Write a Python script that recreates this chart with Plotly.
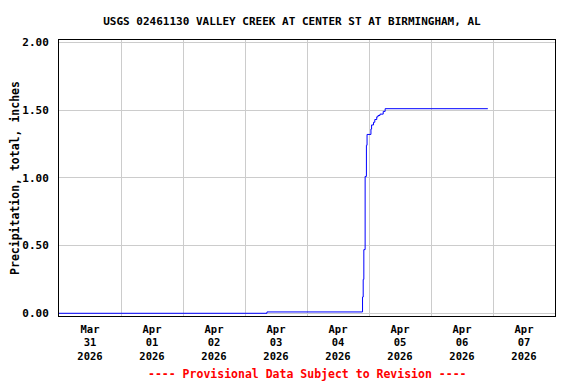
import plotly.graph_objects as go

# Cumulative precipitation readings (time, inches)
times = [
    "2026-03-31 00:00", "2026-04-03 08:30", "2026-04-04 21:30", "2026-04-04 21:45",
    "2026-04-04 22:00", "2026-04-04 22:30", "2026-04-04 23:00", "2026-04-04 23:15",
    "2026-04-05 00:45", "2026-04-05 01:00", "2026-04-05 01:45", "2026-04-05 02:15",
    "2026-04-05 03:00", "2026-04-05 03:30", "2026-04-05 04:15", "2026-04-05 05:30",
    "2026-04-05 06:15", "2026-04-06 22:00",
]
precip = [
    0.00, 0.01, 0.12, 0.25,
    0.47, 1.01, 1.24, 1.32,
    1.36, 1.39, 1.41, 1.43,
    1.45, 1.46, 1.47, 1.49,
    1.51, 1.51,
]

tick_vals = ["2026-03-31 12:00", "2026-04-01 12:00", "2026-04-02 12:00", "2026-04-03 12:00",
             "2026-04-04 12:00", "2026-04-05 12:00", "2026-04-06 12:00", "2026-04-07 12:00"]
tick_text = ["Mar<br>31<br>2026", "Apr<br>01<br>2026", "Apr<br>02<br>2026", "Apr<br>03<br>2026",
             "Apr<br>04<br>2026", "Apr<br>05<br>2026", "Apr<br>06<br>2026", "Apr<br>07<br>2026"]
y_ticks = [0.0, 0.5, 1.0, 1.5, 2.0]

title = "USGS 02461130 VALLEY CREEK AT CENTER ST AT BIRMINGHAM, AL"
y_title = "Precipitation, total, inches"
note = "---- Provisional Data Subject to Revision ----"

FONT = "DejaVu Sans Mono"

fig = go.Figure()
fig.add_trace(go.Scatter(
    x=times, y=precip, mode="lines", line=dict(color="#0000ff", width=1, shape="hv"),
    showlegend=False, hoverinfo="x+y",
))

# The page body has an 8px default margin, so the figure is laid out 8px up/left.
fig.update_layout(
    width=576, height=384,
    margin=dict(l=51, r=29, t=32, b=76, autoexpand=False),
    paper_bgcolor="white", plot_bgcolor="white",
    title=dict(text=title, x=284 / 576, xref="container", xanchor="center",
               y=1 - 13 / 384, yref="container", yanchor="middle", automargin=False,
               font=dict(family=FONT, size=11, color="black", weight="bold")),
    font=dict(family=FONT, size=11, color="black", weight="bold"),
    xaxis=dict(
        type="date", automargin=False,
        range=["2026-03-31 00:00", "2026-04-08 00:00"],
        tickmode="array", tickvals=tick_vals, ticktext=tick_text,
        ticks="outside", ticklen=3, tickcolor="white", showgrid=False,
        minor=dict(tickmode="linear", tick0="2026-03-31 00:00", dtick=86400000,
                   showgrid=True, gridcolor="#cccccc", gridwidth=1, ticks=""),
        showline=True, linecolor="black", linewidth=1, mirror=True,
        zeroline=False,
        tickfont=dict(family=FONT, size=10.5, color="black", weight="bold"),
    ),
    yaxis=dict(
        automargin=False,
        range=[-0.02, 2.017],
        tickmode="array", tickvals=y_ticks, tickformat=".2f",
        ticks="outside", ticklen=7, tickcolor="white",
        showgrid=True, gridcolor="#cccccc", gridwidth=1,
        showline=True, linecolor="black", linewidth=1, mirror=True,
        zeroline=False,
        tickfont=dict(family=FONT, size=11, color="black", weight="bold"),
        title=dict(text=y_title, standoff=9,
                   font=dict(family=FONT, size=11.5, color="black", weight="bold")),
    ),
    annotations=[dict(
        text=note, xref="paper", yref="paper", x=0.5, y=-(366 - 308) / 276,
        xanchor="center", yanchor="middle", showarrow=False,
        font=dict(family=FONT, size=11.5, color="red", weight="bold"),
    )],
)

fig.write_html("out.html")
